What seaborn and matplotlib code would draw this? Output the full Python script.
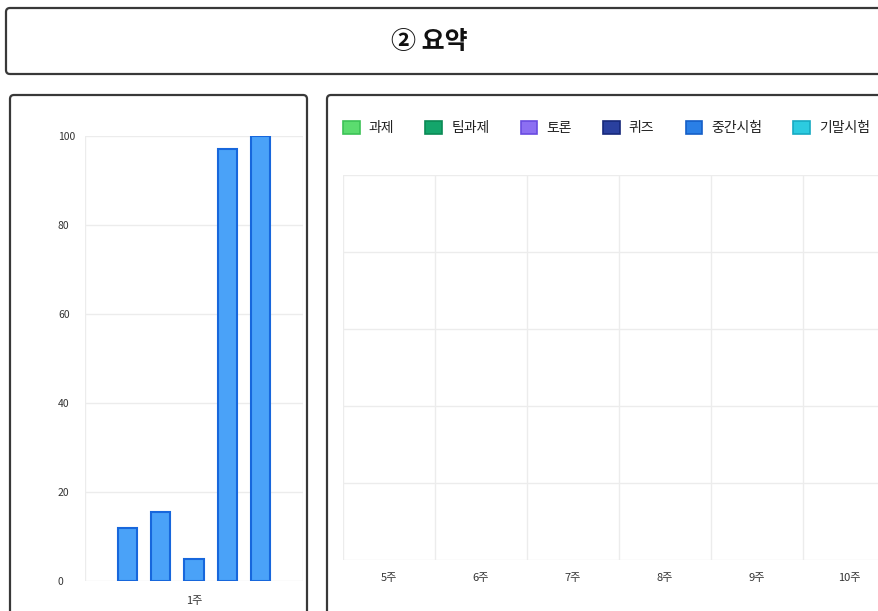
import matplotlib
matplotlib.use("Agg")
import matplotlib.pyplot as plt
from matplotlib.patches import FancyBboxPatch, Patch
from matplotlib.transforms import IdentityTransform
import seaborn as sns
import pandas as pd

# ---- data ----
title_text = "② 요약"

summary_week = ["1주"]
summary_items = ["항목1", "항목2", "항목3", "항목4", "항목5"]
summary_scores = [12, 15.5, 5, 97, 100]
summary_ticks = [0, 20, 40, 60, 80, 100]

weeks = ["5주", "6주", "7주", "8주", "9주", "10주"]
categories = ["과제", "팀과제", "토론", "퀴즈", "중간시험", "기말시험"]
category_fill = ["#5bdc6f", "#14a56b", "#8c6ff2", "#2a409f", "#2a7fe6", "#2ccbe0"]
category_edge = ["#3cc256", "#0b8a55", "#6a4be0", "#16287a", "#155fc7", "#17aac2"]
assignment_scores = [0, 0, 0, 0, 0, 0]
team_scores = [0, 0, 0, 0, 0, 0]
debate_scores = [0, 0, 0, 0, 0, 0]
quiz_scores = [0, 0, 0, 0, 0, 0]
midterm_scores = [0, 0, 0, 0, 0, 0]
final_scores = [0, 0, 0, 0, 0, 0]

# ---- style ----
sns.set_theme(style="white")
plt.rcParams["font.family"] = ["Noto Sans CJK KR", "DejaVu Sans"]

W, H, DPI = 879, 611, 100
fig = plt.figure(figsize=(W / DPI, H / DPI), dpi=DPI)
fig.patch.set_facecolor("white")


def frame(x0, y0, x1, y1):
    """Rounded panel border, given in image pixel coordinates (y downwards)."""
    fig.add_artist(FancyBboxPatch(
        (x0, H - y1), x1 - x0, y1 - y0,
        boxstyle="round,pad=0,rounding_size=4",
        transform=IdentityTransform(), facecolor="none",
        edgecolor="#383838", linewidth=1.6, zorder=5))


def px_axes(x0, y0, x1, y1):
    return fig.add_axes([x0 / W, (H - y1) / H, (x1 - x0) / W, (y1 - y0) / H])


grid_color = "#ececec"

# title box
frame(6, 8, 892, 74)
fig.text(429 / W, 1 - 42 / H, title_text, ha="center", va="center",
         fontsize=18, fontweight="bold", color="#111111")

# panel borders
frame(10, 95, 307, 640)
frame(327, 95, 900, 640)

# ---- left: summary bars ----
axl = px_axes(85, 136, 303, 581)
df_sum = pd.DataFrame({"week": summary_week * len(summary_items),
                       "item": summary_items,
                       "score": summary_scores})
sns.barplot(data=df_sum, x="week", y="score", hue="item",
            palette=["#4aa2f8"] * len(summary_items), saturation=1,
            width=0.764, gap=0.42,
            edgecolor="#1767dc", linewidth=1.5, legend=False, ax=axl)
axl.set_ylim(0, 100)
axl.set_xlim(-0.5, 0.5)
axl.set_yticks(summary_ticks)
axl.set_xticks([-0.5, 0.5], minor=True)
axl.grid(True, axis="y", color=grid_color, linewidth=1)
axl.grid(True, axis="x", which="minor", color=grid_color, linewidth=1)
axl.set_axisbelow(True)
axl.set_xlabel("")
axl.set_ylabel("")
for s in axl.spines.values():
    s.set_visible(False)
axl.tick_params(axis="y", length=0, pad=19.5, labelsize=7.5, labelcolor="#333333")
axl.tick_params(axis="x", which="both", length=0, pad=11, labelsize=8, labelcolor="#333333")
for lab in axl.get_yticklabels():
    lab.set_horizontalalignment("left")

# ---- right: weekly breakdown ----
axr = px_axes(343, 175, 895, 560)
series = [assignment_scores, team_scores, debate_scores,
          quiz_scores, midterm_scores, final_scores]
rows = []
for cat, vals in zip(categories, series):
    for wk, v in zip(weeks, vals):
        rows.append({"week": wk, "category": cat, "score": v})
df_week = pd.DataFrame(rows)
sns.barplot(data=df_week, x="week", y="score", hue="category",
            hue_order=categories, palette=category_fill, saturation=1,
            linewidth=0, legend=False, ax=axr)
axr.set_ylim(0, 1)
axr.set_xlim(-0.5, len(weeks) - 0.5)
axr.set_yticks([0, 0.2, 0.4, 0.6, 0.8, 1.0])
axr.set_yticklabels([])
axr.set_xticks([i - 0.5 for i in range(len(weeks) + 1)], minor=True)
axr.grid(True, axis="y", color=grid_color, linewidth=1)
axr.grid(True, axis="x", which="minor", color=grid_color, linewidth=1)
axr.set_axisbelow(True)
axr.set_xlabel("")
axr.set_ylabel("")
for s in axr.spines.values():
    s.set_visible(False)
axr.tick_params(axis="both", which="both", length=0)
axr.tick_params(axis="x", pad=9, labelsize=8, labelcolor="#333333")

handles = [Patch(facecolor=f, edgecolor=e, linewidth=1.2, label=c)
           for c, f, e in zip(categories, category_fill, category_edge)]
fig.legend(handles=handles, loc="center left",
           bbox_to_anchor=(343 / W, 1 - 128 / H), ncol=len(categories),
           frameon=False, fontsize=10, handlelength=1.2, handleheight=1.1,
           handletextpad=0.65, columnspacing=2.25, borderaxespad=0,
           borderpad=0, labelcolor="#222222")

fig.savefig("out.png", dpi=DPI, facecolor="white")
